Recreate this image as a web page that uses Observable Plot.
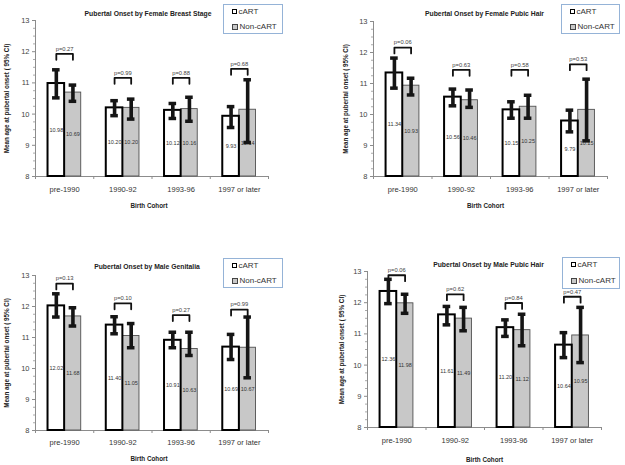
<!DOCTYPE html>
<html>
<head>
<meta charset="utf-8">
<script src="https://cdn.jsdelivr.net/npm/d3@7"></script>
<script src="https://cdn.jsdelivr.net/npm/@observablehq/plot@0.6"></script>
<style>
  html, body { margin: 0; padding: 0; background: #fff; }
  #wrap { position: relative; width: 625px; height: 465px; background: #fff; overflow: hidden; font-family: "Liberation Sans", Arial, sans-serif; }
  .panel { position: absolute; }
  .legend { position: absolute; border: 1px solid #95b3d7; background: #fff; box-sizing: border-box; font-size: 8px; color: #333; }
  .legend .row { position: absolute; left: 8px; display: flex; align-items: center; white-space: nowrap; }
  .legend .sw { display: inline-block; margin-right: 1.5px; }
</style>
</head>
<body>
<div id="wrap"></div>
<script>
// ---- data ----
const cohorts = ["pre-1990", "1990-92", "1993-96", "1997 or later"];
const groups = ["cART", "Non-cART"];
const titles = [
  "Pubertal Onset by Female Breast Stage",
  "Pubertal Onset by Female Pubic Hair",
  "Pubertal Onset by Male Genitalia",
  "Pubertal Onset by Male Pubic Hair"
];
const yTicks = [8, 9, 10, 11, 12, 13];
const yLabel = "Mean age at pubertal onset ( 95% CI)";
const xLabel = "Birth Cohort";

// Female breast stage
const fbCart = [10.98, 10.20, 10.12, 9.93];
const fbNon = [10.69, 10.20, 10.16, 10.14];
const fbCartCI = [[10.52, 11.42], [9.95, 10.43], [9.86, 10.34], [9.57, 10.24]];
const fbNonCI = [[10.41, 10.93], [9.84, 10.48], [9.77, 10.54], [9.09, 11.10]];
const fbP = [0.27, 0.99, 0.88, 0.68];
const fbBracket = [11.93, 11.16, 11.16, 11.45];

// Female pubic hair
const fpCart = [11.34, 10.56, 10.15, 9.79];
const fpNon = [10.93, 10.46, 10.25, 10.15];
const fpCartCI = [[10.85, 11.82], [10.28, 10.82], [9.88, 10.41], [9.44, 10.14]];
const fpNonCI = [[10.63, 11.17], [10.23, 10.79], [9.88, 10.62], [9.15, 11.14]];
const fpP = [0.06, 0.63, 0.58, 0.53];
const fpBracket = [12.16, 11.44, 11.44, 11.62];

// Male genitalia
const mgCart = [12.02, 11.40, 10.91, 10.69];
const mgNon = [11.68, 11.05, 10.63, 10.67];
const mgCartCI = [[11.66, 12.41], [11.12, 11.67], [10.67, 11.17], [10.29, 11.10]];
const mgNonCI = [[11.37, 11.96], [10.67, 11.45], [10.42, 11.17], [9.70, 11.66]];
const mgP = [0.13, 0.10, 0.27, 0.99];
const mgBracket = [12.74, 12.10, 11.72, 11.90];

// Male pubic hair
const mpCart = [12.36, 11.61, 11.20, 10.64];
const mpNon = [11.98, 11.49, 11.12, 10.95];
const mpCartCI = [[11.97, 12.75], [11.29, 11.88], [10.92, 11.45], [10.24, 11.04]];
const mpNonCI = [[11.66, 12.27], [11.10, 11.85], [10.62, 11.63], [10.08, 11.85]];
const mpP = [0.06, 0.62, 0.84, 0.47];
const mpBracket = [12.88, 12.27, 11.99, 12.19];

// ---- layout ----
const panels = [
  {title: titles[0], cart: fbCart, non: fbNon, cartCI: fbCartCI, nonCI: fbNonCI, p: fbP, br: fbBracket,
   left: 0, top: 0, h: 232, mt: 20, mb: 56, ml: 35, mr: 44, tdx: -4, tdy: -7, ydx: -29, xldy: 29, xtp: 10, xldx: -3,
   leg: {left: 223, top: 4, w: 60, h: 30}},
  {title: titles[1], cart: fpCart, non: fpNon, cartCI: fpCartCI, nonCI: fpNonCI, p: fpP, br: fpBracket,
   left: 312, top: 0, h: 232, mt: 21, mb: 56, ml: 61, mr: 17, tdx: -6, tdy: -8, ydx: -28, xldy: 29, xtp: 10, xldx: -5,
   leg: {left: 561, top: 4, w: 59, h: 30}},
  {title: titles[2], cart: mgCart, non: mgNon, cartCI: mgCartCI, nonCI: mgNonCI, p: mgP, br: mgBracket,
   left: 0, top: 232, h: 233, mt: 43, mb: 35, ml: 35, mr: 44, tdx: -5, tdy: -9, ydx: -29, xldy: 28, xtp: 9, xldx: -3,
   leg: {left: 223, top: 258, w: 60, h: 30}},
  {title: titles[3], cart: mpCart, non: mpNon, cartCI: mpCartCI, nonCI: mpNonCI, p: mpP, br: mpBracket,
   left: 312, top: 232, h: 233, mt: 39, mb: 38, ml: 55, mr: 23, tdx: 4, tdy: -7, ydx: -26, xldy: 32, xtp: 10, xldx: 0,
   leg: {left: 562, top: 257, w: 58, h: 32}}
];

const hw = 0.285;   // half of the pair width in category units
const wrap = document.getElementById("wrap");

function makePanel(P) {
  const rows = [];
  cohorts.forEach((c, i) => {
    rows.push({i, g: groups[0], v: P.cart[i], lo: P.cartCI[i][0], hi: P.cartCI[i][1], cx: i - hw / 2, x1: i - hw, x2: i});
    rows.push({i, g: groups[1], v: P.non[i], lo: P.nonCI[i][0], hi: P.nonCI[i][1], cx: i + hw / 2, x1: i, x2: i + hw});
  });
  const cartRows = rows.filter(d => d.g === groups[0]);
  const nonRows = rows.filter(d => d.g === groups[1]);
  const brPts = [];
  cohorts.forEach((c, i) => {
    const y = P.br[i];
    brPts.push({i, x: i - hw / 2, y: y - 0.19});
    brPts.push({i, x: i - hw / 2, y});
    brPts.push({i, x: i + hw / 2, y});
    brPts.push({i, x: i + hw / 2, y: y - 0.19});
  });
  const brLab = cohorts.map((c, i) => ({i, y: P.br[i], t: "p=" + P.p[i].toFixed(2)}));
  const minor = d3.range(8, 13.001, 0.25).filter(v => Math.abs(v - Math.round(v)) > 1e-6);

  const plot = Plot.plot({
    width: 312, height: P.h,
    marginTop: P.mt, marginBottom: P.mb, marginLeft: P.ml, marginRight: P.mr,
    x: {type: "linear", domain: [-0.5, 3.5]},
    y: {domain: [8, 13]},
    style: {background: "transparent", fontFamily: "'Liberation Sans', Arial, sans-serif", overflow: "visible"},
    marks: [
      // axes
      Plot.ruleX([-0.5], {stroke: "#8c8c8c", strokeWidth: 1}),
      Plot.ruleY([8], {stroke: "#8c8c8c", strokeWidth: 1}),
      Plot.axisY({ticks: yTicks, tickSize: 3, tickPadding: 3, tickFormat: d => String(d), fontSize: 7.5, color: "#444", stroke: "#8c8c8c", label: null}),
      Plot.axisY({ticks: minor, tickSize: 2, tickFormat: () => "", stroke: "#aaa", label: null}),
      Plot.axisX({ticks: [-0.5, 0.5, 1.5, 2.5, 3.5], tickSize: 3, tickFormat: () => "", stroke: "#8c8c8c", label: null}),
      Plot.axisX({ticks: [0, 1, 2, 3], tickSize: 0, tickPadding: P.xtp, tickFormat: i => cohorts[i], fontSize: 7.5, color: "#333", label: null}),
      // bars
      Plot.rectY(nonRows, {x1: "x1", x2: "x2", y1: 8, y2: "v", fill: "#c8c8c8", stroke: "#505050", strokeWidth: 0.9}),
      Plot.rectY(cartRows, {x1: "x1", x2: "x2", y1: 8, y2: "v", fill: "#fff", stroke: "#000", strokeWidth: 2}),
      // value labels
      Plot.text(rows, {x: "cx", y: d => (8 + d.v) / 2, text: d => d.v.toFixed(2), fontSize: 5.5, fill: "#333"}),
      // error bars
      Plot.ruleX(rows, {x: "cx", y1: "lo", y2: "hi", stroke: "#151515", strokeWidth: 3.6}),
      Plot.ruleY(rows, {y: "hi", x1: d => d.cx - 0.065, x2: d => d.cx + 0.065, stroke: "#151515", strokeWidth: 3.5}),
      Plot.ruleY(rows, {y: "lo", x1: d => d.cx - 0.065, x2: d => d.cx + 0.065, stroke: "#151515", strokeWidth: 3.5}),
      // p-value brackets
      Plot.line(brPts, {x: "x", y: "y", z: "i", stroke: "#111", strokeWidth: 1.8, strokeLinejoin: "round", curve: "linear"}),
      Plot.text(brLab, {x: "i", y: "y", text: "t", dy: -5, fontSize: 5.8, fill: "#444"}),
      // titles & labels
      Plot.text([P.title], {frameAnchor: "top", lineAnchor: "middle", textAnchor: "middle", dy: P.tdy, dx: P.tdx, text: d => d, fontWeight: "bold", fontSize: 6.8, fill: "#222"}),
      Plot.text([yLabel], {frameAnchor: "left", lineAnchor: "middle", textAnchor: "middle", rotate: -90, dx: P.ydx, text: d => d, fontWeight: "bold", fontSize: 6.3, fill: "#222"}),
      Plot.text([xLabel], {frameAnchor: "bottom", lineAnchor: "middle", textAnchor: "middle", dy: P.xldy, dx: P.xldx, text: d => d, fontWeight: "bold", fontSize: 6.3, fill: "#222"})
    ]
  });
  const holder = document.createElement("div");
  holder.className = "panel";
  holder.style.left = P.left + "px";
  holder.style.top = P.top + "px";
  holder.appendChild(plot);
  wrap.appendChild(holder);

  // legend
  const lg = document.createElement("div");
  lg.className = "legend";
  lg.style.left = P.leg.left + "px";
  lg.style.top = P.leg.top + "px";
  lg.style.width = P.leg.w + "px";
  lg.style.height = P.leg.h + "px";
  const sw = [
    "background:#fff;border:1.5px solid #000;width:3px;height:3px;",
    "background:#c8c8c8;border:1px solid #444;width:4px;height:4px;"
  ];
  groups.forEach((g, k) => {
    const r = document.createElement("div");
    r.className = "row";
    r.style.top = (k === 0 ? 2 : P.leg.h / 2 + 2) + "px";
    const s = document.createElement("span");
    s.className = "sw";
    s.setAttribute("style", sw[k]);
    const t = document.createElement("span");
    t.textContent = g;
    r.appendChild(s);
    r.appendChild(t);
    lg.appendChild(r);
  });
  wrap.appendChild(lg);
}

panels.forEach(makePanel);
</script>
</body>
</html>
